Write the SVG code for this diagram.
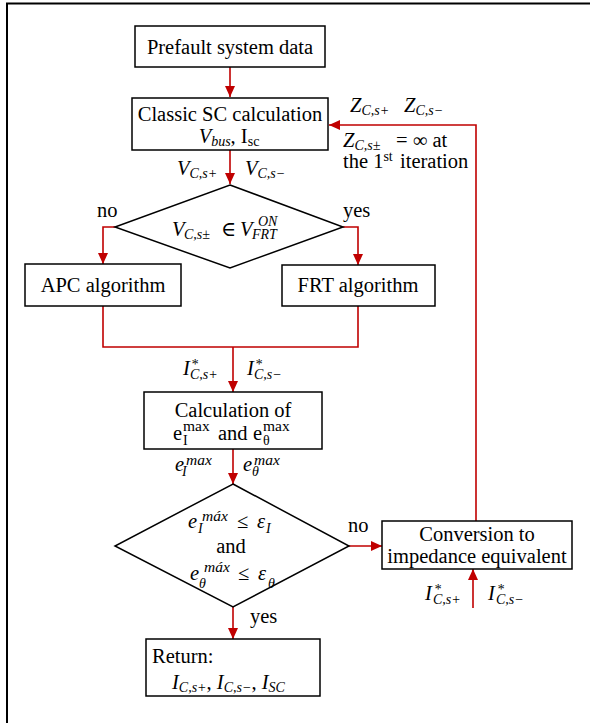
<svg xmlns="http://www.w3.org/2000/svg" width="590" height="723" viewBox="0 0 590 723">
<defs>
<style>
.box{fill:#fff;stroke:#000;stroke-width:1.5}
.t{font-family:'Liberation Serif','DejaVu Serif','Noto Serif',serif;font-size:20.5px;fill:#000}
.m{font-style:italic}
.s{font-size:14px}
.x{font-size:15.5px}
.c{stroke:#c00000;stroke-width:1.6;fill:none}
.mid{text-anchor:middle}
</style>
<marker id="ah" markerUnits="userSpaceOnUse" markerWidth="12" markerHeight="10" refX="11" refY="5" orient="auto">
<path d="M0,0 L11,5 L0,10 Z" fill="#c00000"/>
</marker>
</defs>
<rect width="590" height="723" fill="#fff"/>
<path d="M590,3.5 H7 V723" fill="none" stroke="#000" stroke-width="2"/>

<g id="connectors">
<path class="c" d="M230,67 V97" marker-end="url(#ah)"/>
<path class="c" d="M230,150 V184" marker-end="url(#ah)"/>
<path class="c" d="M115,227 H103 V264" marker-end="url(#ah)"/>
<path class="c" d="M343,227 H358 V265" marker-end="url(#ah)"/>
<path class="c" d="M103,306 V347 H358 V306"/>
<path class="c" d="M233,347 V392" marker-end="url(#ah)"/>
<path class="c" d="M233,449 V484" marker-end="url(#ah)"/>
<path class="c" d="M349,546 H382" marker-end="url(#ah)"/>
<path class="c" d="M233,607 V639" marker-end="url(#ah)"/>
<path class="c" d="M476,521 V125 H329" marker-end="url(#ah)"/>
<path class="c" d="M473,608 V569" marker-end="url(#ah)"/>
</g>

<g id="connector-labels">
<text class="t m" x="177" y="175">V<tspan class="s" dy="3">C,s+</tspan></text>
<text class="t m" x="245" y="175">V<tspan class="s" dy="3">C,s−</tspan></text>
<text class="t" x="97" y="217">no</text>
<text class="t" x="343" y="217">yes</text>
<text class="t m" x="350" y="112">Z<tspan class="s" dy="3">C,s+</tspan></text>
<text class="t m" x="404" y="112">Z<tspan class="s" dy="3">C,s−</tspan></text>
<text class="t m" x="343" y="147">Z<tspan class="s" dy="3">C,s±</tspan></text>
<text class="t" x="396" y="147">= ∞ at</text>
<text class="t" x="343" y="168">the 1<tspan class="s" dy="-7">st</tspan></text>
<text class="t" x="400" y="168">iteration</text>
<text class="t m" x="183" y="375">I</text>
<text class="t m s" x="191" y="369">*</text>
<text class="t m s" x="190" y="379">C,s+</text>
<text class="t m" x="247" y="375">I</text>
<text class="t m s" x="255" y="369">*</text>
<text class="t m s" x="254" y="379">C,s−</text>
<text class="t m" x="175" y="471">e</text>
<text class="t m x" x="186" y="465">max</text>
<text class="t m s" x="182" y="476">I</text>
<text class="t m" x="243" y="471">e</text>
<text class="t m x" x="254" y="465">max</text>
<text class="t m s" x="252" y="476">θ</text>
<text class="t" x="348" y="532">no</text>
<text class="t" x="250" y="623">yes</text>
<text class="t m" x="425" y="600">I</text>
<text class="t m s" x="434" y="594">*</text>
<text class="t m s" x="433" y="604">C,s+</text>
<text class="t m" x="488" y="600">I</text>
<text class="t m s" x="497" y="594">*</text>
<text class="t m s" x="496" y="604">C,s−</text>
</g>

<g id="prefault">
<rect class="box" x="135" y="26" width="190" height="41"/>
<text class="t mid" x="230" y="54">Prefault system data</text>
</g>

<g id="classic-sc">
<rect class="box" x="132" y="98" width="196" height="52"/>
<text class="t mid" x="230" y="121">Classic SC calculation</text>
<text class="t mid" x="229" y="143"><tspan class="m">V</tspan><tspan class="s m" dy="3">bus</tspan><tspan dy="-3">, I</tspan><tspan class="s" dy="3">sc</tspan></text>
</g>

<g id="frt-check">
<polygon class="box" points="230,185 343,227 230,268 115,227"/>
<text class="t m" x="172" y="236">V</text>
<text class="t m s" x="184" y="239">C,s±</text>
<text class="t" x="221" y="236">∈</text>
<text class="t m" x="240" y="236">V</text>
<text class="t m s" x="258" y="226">ON</text>
<text class="t m s" x="252" y="239">FRT</text>
</g>

<g id="apc">
<rect class="box" x="25" y="264" width="156" height="42"/>
<text class="t mid" x="103" y="292">APC algorithm</text>
</g>

<g id="frt">
<rect class="box" x="282" y="265" width="153" height="41"/>
<text class="t mid" x="358" y="292">FRT algorithm</text>
</g>

<g id="calc-errors">
<rect class="box" x="144" y="392" width="178" height="57"/>
<text class="t mid" x="233" y="417">Calculation of</text>
<text class="t" x="173" y="440">e</text>
<text class="t x" x="183" y="431">max</text>
<text class="t s" x="183" y="445">I</text>
<text class="t" x="218" y="440">and</text>
<text class="t" x="253" y="440">e</text>
<text class="t x" x="263" y="431">max</text>
<text class="t s" x="263" y="445">θ</text>
</g>

<g id="convergence-check">
<polygon class="box" points="233,484 349,546 233,607 115,546"/>
<text class="t m" x="188" y="528">e</text>
<text class="t m x" x="202" y="521">máx</text>
<text class="t m s" x="198" y="533">I</text>
<text class="t" x="237" y="528">≤</text>
<text class="t m" x="257" y="528">ε</text>
<text class="t m s" x="266" y="533">I</text>
<text class="t mid" x="231" y="553">and</text>
<text class="t m" x="190" y="580">e</text>
<text class="t m x" x="204" y="572">máx</text>
<text class="t m s" x="199" y="588">θ</text>
<text class="t" x="238" y="580">≤</text>
<text class="t m" x="258" y="580">ε</text>
<text class="t m s" x="268" y="588">θ</text>
</g>

<g id="conversion">
<rect class="box" x="382" y="521" width="190" height="48"/>
<text class="t mid" x="477" y="541">Conversion to</text>
<text class="t mid" x="477" y="563">impedance equivalent</text>
</g>

<g id="return">
<rect class="box" x="146" y="639" width="174" height="57"/>
<text class="t" x="152" y="663">Return:</text>
<text class="t" x="172" y="689"><tspan class="m">I</tspan><tspan class="s m" dy="3">C,s+</tspan><tspan dy="-3">, </tspan><tspan class="m">I</tspan><tspan class="s m" dy="3">C,s−</tspan><tspan dy="-3">, </tspan><tspan class="m">I</tspan><tspan class="s m" dy="3">SC</tspan></text>
</g>
</svg>
